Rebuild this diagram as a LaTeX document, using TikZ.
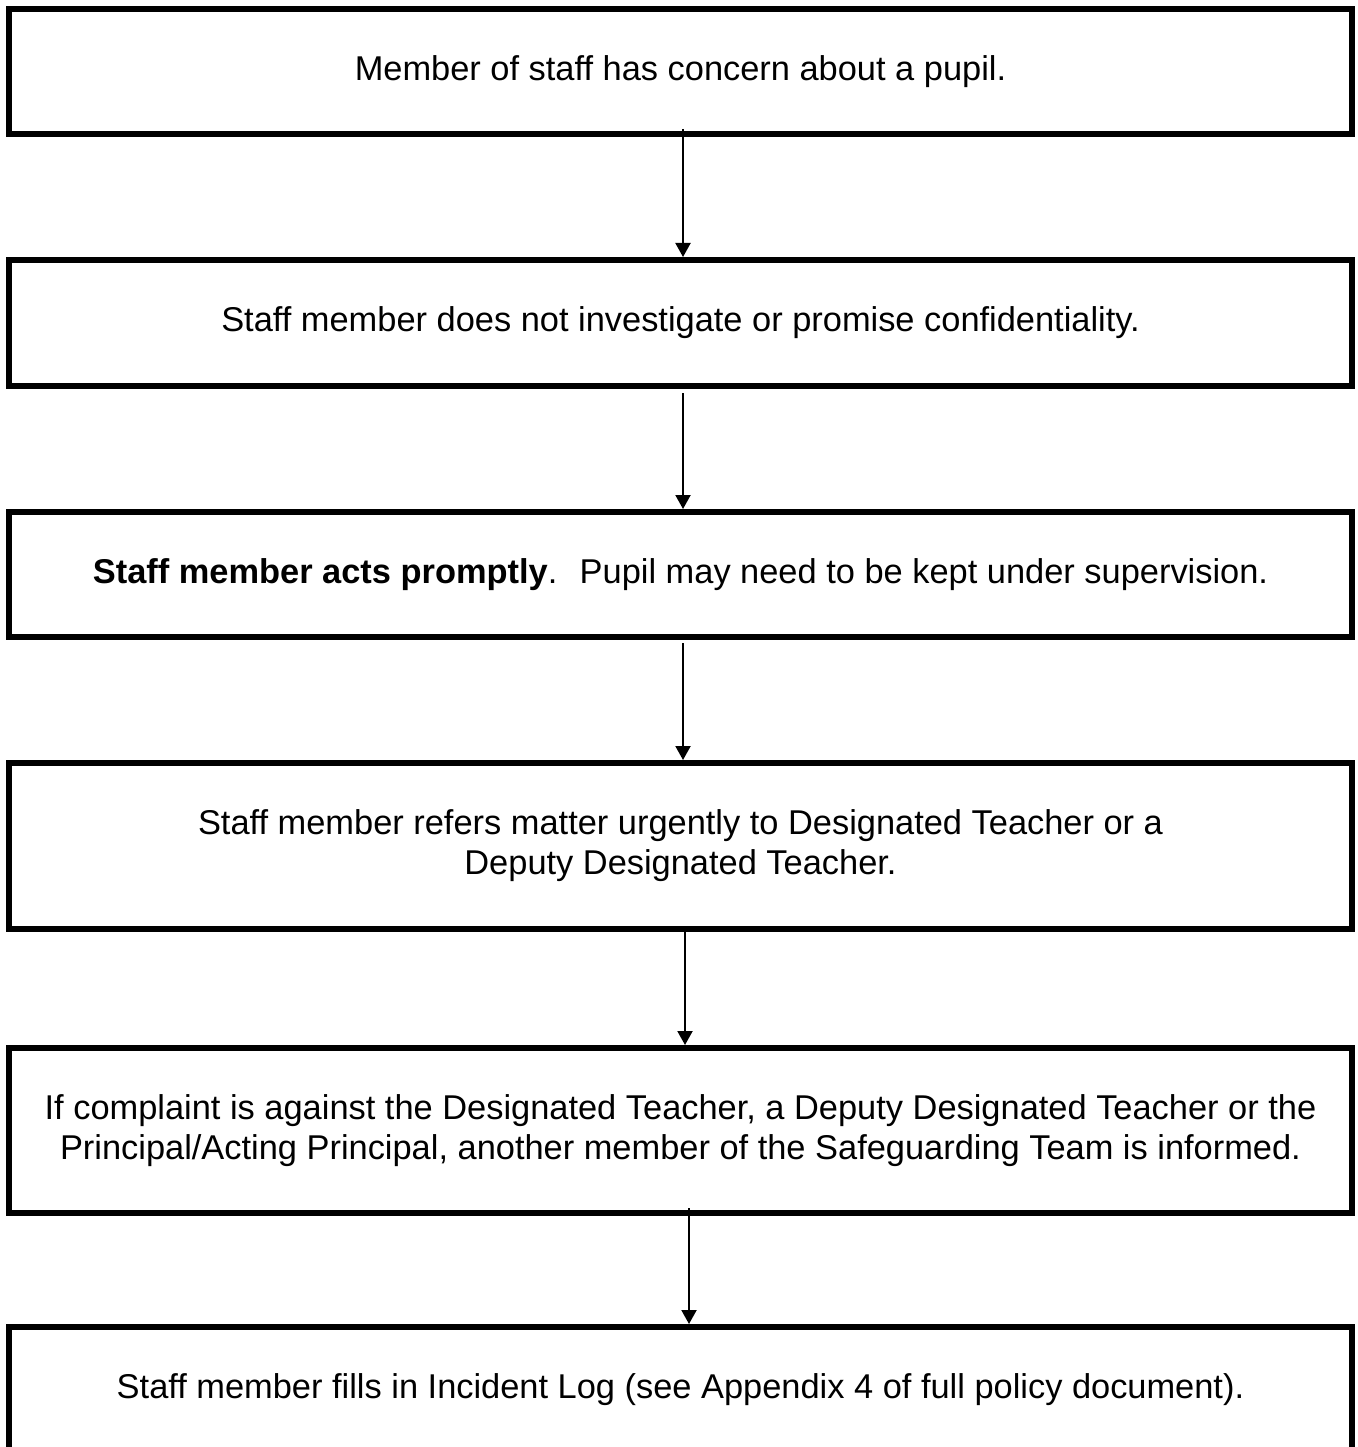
\documentclass[tikz,border=0pt]{standalone}
\usepackage{fontspec}
\setmainfont{Liberation Sans}
\usetikzlibrary{arrows.meta}
\begin{document}
\begin{tikzpicture}[x=1pt,y=1pt,
    stage/.style={draw, rectangle, line width=6pt, minimum width=1343pt,
        inner sep=0pt, outer sep=0pt, align=center,
        font=\fontsize{34.4}{40}\selectfont},
    flow/.style={line width=2pt, -{Triangle[length=14pt,width=15pt]}}]
\useasboundingbox (0,0) rectangle (1357,-1447);

\node[stage, minimum height=125pt] (concern) at (680.5,-71.5)
    {Member of staff has concern about a pupil.};
\node[stage, minimum height=126pt] (noinvestigate) at (680.5,-323)
    {Staff member does not investigate or promise confidentiality.};
\node[stage, minimum height=125pt] (prompt) at (680.5,-574.5)
    {\textbf{Staff member acts promptly}. \ Pupil may need to be kept under supervision.};
\node[stage, minimum height=166pt] (refer) at (680.5,-846)
    {Staff member refers matter urgently to Designated Teacher or a\\
     Deputy Designated Teacher.};
\node[stage, minimum height=165pt] (complaint) at (680.5,-1130.5)
    {If complaint is against the Designated Teacher, a Deputy Designated Teacher or the\\
     Principal/Acting Principal, another member of the Safeguarding Team is informed.};
\node[stage, minimum height=125pt] (log) at (680.5,-1389.5)
    {Staff member fills in Incident Log (see Appendix 4 of full policy document).};

\draw[flow, shorten <=-5pt, shorten >=3pt] ([xshift=2.5pt]concern.south) -- ([xshift=2.5pt]noinvestigate.north);
\draw[flow, shorten <=7pt, shorten >=3pt] ([xshift=2.5pt]noinvestigate.south) -- ([xshift=2.5pt]prompt.north);
\draw[flow, shorten <=6pt, shorten >=3pt] ([xshift=2.5pt]prompt.south) -- ([xshift=2.5pt]refer.north);
\draw[flow, shorten >=3pt] ([xshift=4.5pt]refer.south) -- ([xshift=4.5pt]complaint.north);
\draw[flow, shorten <=-5pt, shorten >=3pt] ([xshift=8.5pt]complaint.south) -- ([xshift=8.5pt]log.north);
\end{tikzpicture}
\end{document}
